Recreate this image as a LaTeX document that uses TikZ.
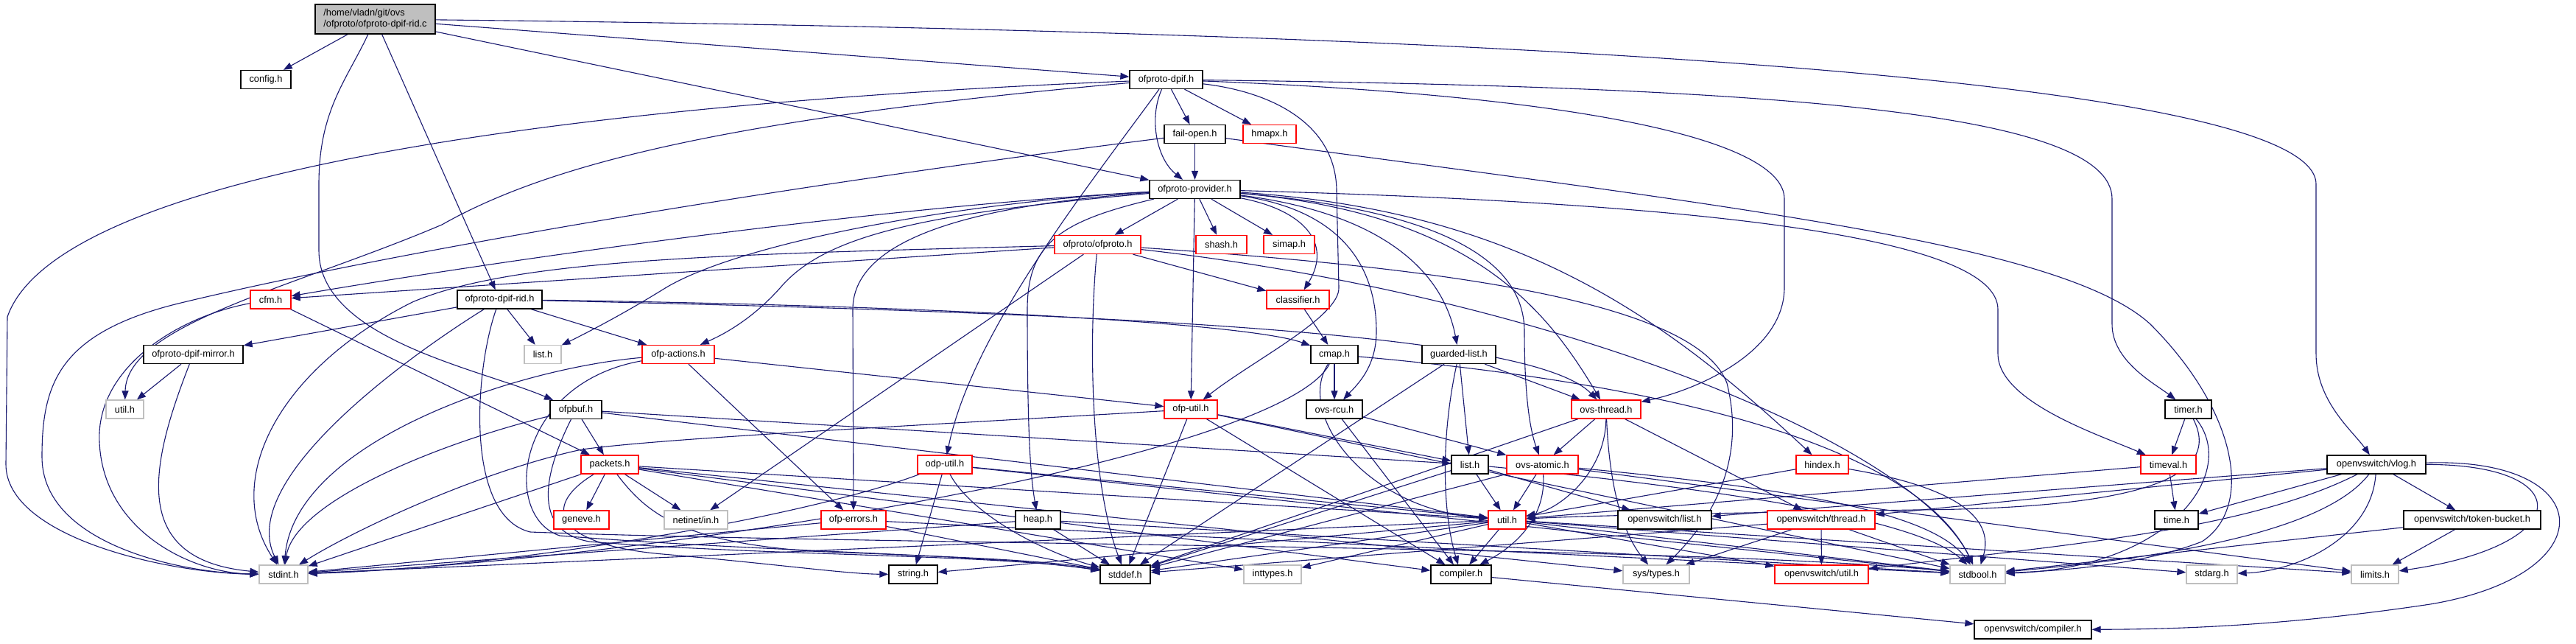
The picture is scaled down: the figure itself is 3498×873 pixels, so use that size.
\documentclass[tikz,border=0pt]{standalone}
\usepackage{fontspec}
\setmainfont{Liberation Sans}
\usetikzlibrary{arrows.meta,backgrounds}
\definecolor{edgec}{HTML}{191970}
\definecolor{grayb}{HTML}{BFBFBF}
\definecolor{redb}{HTML}{FF0000}
\tikzset{
  nbase/.style={rectangle, draw, line width=1.3pt, inner sep=0pt, minimum height=25pt, fill=white, font=\fontsize{12.8}{15}\selectfont},
  nb/.style={nbase, draw=black},
  nr/.style={nbase, draw=redb},
  ng/.style={nbase, draw=grayb},
  lnk/.style={draw=edgec, line width=1.1pt, -{Triangle[length=12pt,width=9pt]}}
}
\begin{document}
\begin{tikzpicture}[x=1pt,y=-1pt]
\useasboundingbox (0,0) rectangle (3498,873);
% nodes
\node[nb, fill=grayb, minimum width=163pt, minimum height=40pt, align=left] (main) at (509.5,26) {/home/vladn/git/ovs\\/ofproto/ofproto-dpif-rid.c};
\node[nb, minimum width=68pt] (config) at (361,108) {config.h};
\node[nr, minimum width=55pt] (cfm) at (367.5,406.5) {cfm.h};
\node[nb, minimum width=115pt] (rid) at (678.5,406.5) {ofproto-dpif-rid.h};
\node[nb, minimum width=135pt] (mirror) at (262.5,481) {ofproto-dpif-mirror.h};
\node[ng, minimum width=51pt] (utilg) at (169.5,555.5) {util.h};
\node[ng, minimum width=66pt] (stdint) at (385,779.5) {stdint.h};
\node[ng, minimum width=50pt] (listg) at (737,481) {list.h};
\node[nb, minimum width=70pt] (ofpbuf) at (782,556) {ofpbuf.h};
\node[nr, minimum width=78pt] (packets) at (828,630.5) {packets.h};
\node[nr, minimum width=75pt] (geneve) at (789.5,705.5) {geneve.h};
\node[nb, minimum width=99pt] (dpif) at (1583.5,108) {ofproto-dpif.h};
\node[nb, minimum width=83pt] (failopen) at (1622.5,182) {fail-open.h};
\node[nr, minimum width=72pt] (hmapx) at (1724,182) {hmapx.h};
\node[nb, minimum width=123pt] (provider) at (1622.5,257) {ofproto-provider.h};
\node[nr, minimum width=117pt] (ofproto) at (1490.5,332) {ofproto/ofproto.h};
\node[nr, minimum width=69pt] (shash) at (1658.5,332) {shash.h};
\node[nr, minimum width=69pt] (simap) at (1750.5,332) {simap.h};
\node[nr, minimum width=85pt] (classifier) at (1762.5,406.5) {classifier.h};
\node[nr, minimum width=98pt] (ofpactions) at (921,481) {ofp-actions.h};
\node[nr, minimum width=72pt] (ofputil) at (1617,555.5) {ofp-util.h};
\node[nr, minimum width=74pt] (odputil) at (1283,630.5) {odp-util.h};
\node[ng, minimum width=86pt] (netinet) at (945,705.5) {netinet/in.h};
\node[nr, minimum width=88pt] (ofperrors) at (1159,705.5) {ofp-errors.h};
\node[nb, minimum width=61pt] (heap) at (1409.5,705.5) {heap.h};
\node[nb, minimum width=66pt] (string) at (1240,779.5) {string.h};
\node[nb, minimum width=68pt] (stddef) at (1528,779.5) {stddef.h};
\node[ng, minimum width=78pt] (inttypes) at (1728,779.5) {inttypes.h};
\node[nb, minimum width=64pt] (cmap) at (1812,481) {cmap.h};
\node[nb, minimum width=100pt] (guarded) at (1981,481) {guarded-list.h};
\node[nb, minimum width=76pt] (ovsrcu) at (1812,555.5) {ovs-rcu.h};
\node[nr, minimum width=94pt] (ovsthread) at (2181,555.5) {ovs-thread.h};
\node[nb, minimum width=50pt] (listb) at (1996,630.5) {list.h};
\node[nr, minimum width=97pt] (ovsatomic) at (2094.5,630.5) {ovs-atomic.h};
\node[nr, minimum width=71pt] (hindex) at (2474.5,630.5) {hindex.h};
\node[nr, minimum width=51pt] (utilr) at (2046.5,705.5) {util.h};
\node[nb, minimum width=127pt] (ovslist) at (2260.5,705.5) {openvswitch/list.h};
\node[nr, minimum width=146pt] (ovsthreadh) at (2473,705.5) {openvswitch/thread.h};
\node[nb, minimum width=82pt] (compiler) at (1984,779.5) {compiler.h};
\node[ng, minimum width=90pt] (systypes) at (2249,779.5) {sys/types.h};
\node[nr, minimum width=127pt] (ovsutil) at (2473.5,779.5) {openvswitch/util.h};
\node[nb, minimum width=63pt] (timer) at (2971.5,555.5) {timer.h};
\node[nr, minimum width=75pt] (timeval) at (2944.5,630.5) {timeval.h};
\node[nb, minimum width=134pt] (vlog) at (3227,630.5) {openvswitch/vlog.h};
\node[nb, minimum width=59pt] (time) at (2955.5,705.5) {time.h};
\node[nb, minimum width=186pt] (tokenbucket) at (3357,705.5) {openvswitch/token-bucket.h};
\node[ng, minimum width=75pt] (stdbool) at (2685.5,779.5) {stdbool.h};
\node[ng, minimum width=69pt] (stdarg) at (3003.5,779.5) {stdarg.h};
\node[ng, minimum width=64pt] (limits) at (3225,779.5) {limits.h};
\node[nb, minimum width=159pt] (ovscompiler) at (2760.5,854.5) {openvswitch/compiler.h};

\begin{scope}[on background layer]
\fill[white] (0,0) rectangle (3498,873);
% main
\draw[lnk] (main) -- (config);
\draw[lnk] (main) .. controls (470,110) and (433,150) .. (433,250) -- (433,340) .. controls (433,460) and (650,500) .. (ofpbuf);
\draw[lnk] (main) -- (rid);
\draw[lnk] (main) -- (dpif);
\draw[lnk] (main) -- (provider);
\draw[lnk] (main) .. controls (1800,40) and (3145,90) .. (3145,250) -- (3145,480) .. controls (3145,545) and (3195,585) .. (vlog);
% ofproto-dpif.h
\draw[lnk] (dpif) .. controls (800,140) and (80,230) .. (10,430) -- (8,630) .. controls (8,730) and (230,778) .. (stdint);
\draw[lnk] (dpif) .. controls (1000,160) and (750,220) .. (600,305) .. controls (400,390) and (172,440) .. (utilg);
\draw[lnk] (dpif) -- (failopen);
\draw[lnk] (dpif) -- (hmapx);
\draw[lnk] (dpif) .. controls (1480,250) and (1320,450) .. (odputil);
\draw[lnk] (dpif) .. controls (1730,125) and (1815,170) .. (1815,260) -- (1818,390) .. controls (1820,430) and (1700,490) .. (ofputil);
\draw[lnk] (dpif) .. controls (2150,130) and (2423,190) .. (2423,270) -- (2423,390) .. controls (2423,480) and (2300,530) .. (ovsthread);
\draw[lnk] (dpif) .. controls (1560,160) and (1570,215) .. (provider);
\draw[lnk] (dpif) .. controls (2400,118) and (2868,150) .. (2868,270) -- (2868,440) .. controls (2868,490) and (2925,520) .. (timer);
% fail-open.h
\draw[lnk] (failopen) -- (provider);
\draw[lnk] (failopen) .. controls (1000,260) and (500,350) .. (250,410) .. controls (80,450) and (57,520) .. (57,620) .. controls (57,740) and (250,778) .. (stdint);
\draw[lnk] (failopen) .. controls (2350,280) and (2800,330) .. (2920,440) .. controls (3040,560) and (3060,690) .. (2990,735) .. controls (2900,770) and (2780,775) .. (stdbool);
% ofproto-dpif-rid.h
\draw[lnk] (rid) -- (mirror);
\draw[lnk] (rid) .. controls (560,480) and (320,650) .. (stdint);
\draw[lnk] (rid) .. controls (645,500) and (630,700) .. (720,722) .. controls (1200,740) and (2300,740) .. (stdbool);
\draw[lnk] (rid) -- (listg);
\draw[lnk] (rid) -- (ofpactions);
\draw[lnk] (rid) .. controls (1300,415) and (1700,440) .. (cmap);
\draw[lnk] (rid) .. controls (1500,425) and (2080,450) .. (ovsthread);
% mirror
\draw[lnk] (mirror) -- (utilg);
\draw[lnk] (mirror) .. controls (200,640) and (180,760) .. (stdint);
% cfm
\draw[lnk] (cfm) .. controls (240,430) and (130,500) .. (135,600) .. controls (140,720) and (260,778) .. (stdint);
\draw[lnk] (cfm) -- (packets);
% ofproto-provider.h
\draw[lnk] (provider) -- (ofproto);
\draw[lnk] (provider) -- (shash);
\draw[lnk] (provider) -- (simap);
\draw[lnk] (provider) -- (ofputil);
\draw[lnk] (provider) .. controls (1440,300) and (1395,330) .. (1395,420) .. controls (1395,600) and (1400,650) .. (heap);
\draw[lnk] (provider) .. controls (1300,280) and (1158,330) .. (1158,420) -- (ofperrors);
\draw[lnk] (provider) .. controls (1250,290) and (1120,320) .. (1060,390) .. controls (1020,435) and (980,455) .. (ofpactions);
\draw[lnk] (provider) .. controls (1300,275) and (1000,330) .. (900,393) .. controls (840,430) and (790,455) .. (listg);
\draw[lnk] (provider) .. controls (1200,280) and (700,350) .. (cfm);
\draw[lnk] (provider) .. controls (1770,285) and (1810,330) .. (classifier);
\draw[lnk] (provider) .. controls (1820,285) and (1869,360) .. (1869,450) .. controls (1869,500) and (1840,525) .. (ovsrcu);
\draw[lnk] (provider) .. controls (1880,290) and (1960,370) .. (guarded);
\draw[lnk] (provider) .. controls (1950,285) and (2070,350) .. (2070,450) .. controls (2070,550) and (2080,590) .. (ovsatomic);
\draw[lnk] (provider) .. controls (2000,290) and (2100,420) .. (ovsthread);
\draw[lnk] (provider) .. controls (2050,285) and (2250,420) .. (hindex);
\draw[lnk] (provider) .. controls (2300,275) and (2713,320) .. (2713,420) -- (2713,480) .. controls (2713,545) and (2850,590) .. (timeval);
% ofproto/ofproto.h
\draw[lnk] (ofproto) -- (cfm);
\draw[lnk] (ofproto) .. controls (1000,345) and (700,350) .. (560,410) .. controls (380,500) and (300,650) .. (stdint);
\draw[lnk] (ofproto) -- (classifier);
\draw[lnk] (ofproto) -- (netinet);
\draw[lnk] (ofproto) .. controls (1479,450) and (1479,650) .. (stddef);
\draw[lnk] (ofproto) .. controls (2100,400) and (2600,600) .. (stdbool);
\draw[lnk] (ofproto) .. controls (1900,360) and (2300,400) .. (2345,520) .. controls (2370,620) and (2330,700) .. (systypes);
% classifier
\draw[lnk] (classifier) -- (cmap);
% ofpbuf.h
\draw[lnk] (ofpbuf) .. controls (740,640) and (720,720) .. (800,735) .. controls (1050,755) and (1350,752) .. (stddef);
\draw[lnk] (ofpbuf) .. controls (600,600) and (400,680) .. (stdint);
\draw[lnk] (ofpbuf) -- (listb);
\draw[lnk] (ofpbuf) -- (packets);
\draw[lnk] (ofpbuf) -- (utilr);
% packets.h
\draw[lnk] (packets) -- (geneve);
\draw[lnk] (packets) -- (netinet);
\draw[lnk] (packets) -- (stdint);
\draw[lnk] (packets) .. controls (730,690) and (760,740) .. (900,752) .. controls (1050,765) and (1150,779) .. (string);
\draw[lnk] (packets) .. controls (880,700) and (930,735) .. (1100,748) .. controls (1300,756) and (1420,760) .. (stddef);
\draw[lnk] (packets) -- (inttypes);
\draw[lnk] (packets) -- (systypes);
\draw[lnk] (packets) -- (compiler);
\draw[lnk] (packets) -- (utilr);
% ofp-actions.h
\draw[lnk] (ofpactions) -- (ofperrors);
\draw[lnk] (ofpactions) -- (ofputil);
\draw[lnk] (ofpactions) .. controls (700,500) and (400,600) .. (stdint);
\draw[lnk] (ofpactions) .. controls (700,520) and (680,700) .. (760,727) .. controls (1050,750) and (1350,752) .. (stddef);
% ofp-util.h
\draw[lnk] (ofputil) .. controls (1200,580) and (900,595) .. (790,610) .. controls (650,640) and (480,720) .. (stdint);
\draw[lnk] (ofputil) -- (stddef);
\draw[lnk] (ofputil) -- (listb);
\draw[lnk] (ofputil) -- (compiler);
\draw[lnk] (ofputil) -- (stdbool);
% odp-util.h
\draw[lnk] (odputil) .. controls (1100,700) and (700,770) .. (stdint);
\draw[lnk] (odputil) -- (string);
\draw[lnk] (odputil) .. controls (1320,700) and (1420,750) .. (stddef);
\draw[lnk] (odputil) -- (utilr);
\draw[lnk] (odputil) -- (stdbool);
% ofp-errors.h
\draw[lnk] (ofperrors) -- (stdint);
\draw[lnk] (ofperrors) -- (stddef);
\draw[lnk] (ofperrors) -- (stdbool);
% heap.h
\draw[lnk] (heap) -- (stdint);
\draw[lnk] (heap) -- (stddef);
\draw[lnk] (heap) -- (stdbool);
% cmap.h
\draw[lnk] (cmap) -- (ovsrcu);
\draw[lnk] (cmap) .. controls (1740,620) and (900,760) .. (stdint);
\draw[lnk] (cmap) .. controls (1760,560) and (1850,690) .. (utilr);
\draw[lnk] (cmap) .. controls (2250,520) and (2600,600) .. (stdbool);
% ovs-rcu.h
\draw[lnk] (ovsrcu) -- (compiler);
\draw[lnk] (ovsrcu) -- (ovsatomic);
% guarded-list.h
\draw[lnk] (guarded) -- (stddef);
\draw[lnk] (guarded) .. controls (1955,600) and (1960,700) .. (compiler);
\draw[lnk] (guarded) -- (listb);
\draw[lnk] (guarded) -- (ovsthread);
% ovs-thread.h
\draw[lnk] (ovsthread) -- (ovsatomic);
\draw[lnk] (ovsthread) .. controls (2180,640) and (2120,690) .. (utilr);
\draw[lnk] (ovsthread) .. controls (2185,650) and (2200,720) .. (systypes);
\draw[lnk] (ovsthread) -- (ovsthreadh);
\draw[lnk] (ovsthread) -- (stddef);
% list.h
\draw[lnk] (listb) -- (utilr);
\draw[lnk] (listb) -- (ovslist);
\draw[lnk] (listb) -- (stddef);
\draw[lnk] (listb) .. controls (2300,660) and (2600,700) .. (stdbool);
% ovs-atomic.h
\draw[lnk] (ovsatomic) -- (utilr);
\draw[lnk] (ovsatomic) .. controls (2100,700) and (2060,740) .. (compiler);
\draw[lnk] (ovsatomic) -- (stddef);
\draw[lnk] (ovsatomic) .. controls (2400,660) and (2620,690) .. (stdbool);
\draw[lnk] (ovsatomic) -- (limits);
% hindex.h
\draw[lnk] (hindex) -- (utilr);
\draw[lnk] (hindex) .. controls (2650,660) and (2710,700) .. (stdbool);
% util.h
\draw[lnk] (utilr) -- (compiler);
\draw[lnk] (utilr) -- (stdbool);
\draw[lnk] (utilr) -- (stddef);
\draw[lnk] (utilr) -- (stdint);
\draw[lnk] (utilr) -- (string);
\draw[lnk] (utilr) -- (inttypes);
\draw[lnk] (utilr) -- (limits);
\draw[lnk] (utilr) -- (stdarg);
\draw[lnk] (utilr) -- (ovsutil);
% openvswitch/thread.h
\draw[lnk] (ovsthreadh) -- (systypes);
\draw[lnk] (ovsthreadh) -- (ovsutil);
\draw[lnk] (ovsthreadh) -- (stdbool);
\draw[lnk] (ovsthreadh) -- (stddef);
% timer.h
\draw[lnk] (timer) -- (timeval);
\draw[lnk] (timer) .. controls (3040,640) and (2950,770) .. (stdbool);
\draw[lnk] (timer) .. controls (3020,650) and (2900,690) .. (2600,692) .. controls (2300,697) and (2150,700) .. (utilr);
% timeval.h
\draw[lnk] (timeval) -- (time);
\draw[lnk] (timeval) -- (utilr);
% vlog.h
\draw[lnk] (vlog) -- (time);
\draw[lnk] (vlog) .. controls (3150,730) and (2900,760) .. (stdbool);
\draw[lnk] (vlog) .. controls (3220,730) and (3120,775) .. (stdarg);
\draw[lnk] (vlog) .. controls (3500,630) and (3500,740) .. (limits);
\draw[lnk] (vlog) .. controls (3530,620) and (3540,780) .. (3300,820) .. controls (3100,850) and (2950,854) .. (ovscompiler);
\draw[lnk] (vlog) -- (tokenbucket);
\draw[lnk] (vlog) -- (ovslist);
\draw[lnk] (vlog) -- (ovsthreadh);
\draw[lnk] (vlog) .. controls (3050,720) and (2800,740) .. (ovsutil);
% token-bucket
\draw[lnk] (tokenbucket) -- (limits);
\draw[lnk] (tokenbucket) -- (stdbool);
% compiler
\draw[lnk] (compiler) -- (ovscompiler);
\end{scope}
\end{tikzpicture}
\end{document}
